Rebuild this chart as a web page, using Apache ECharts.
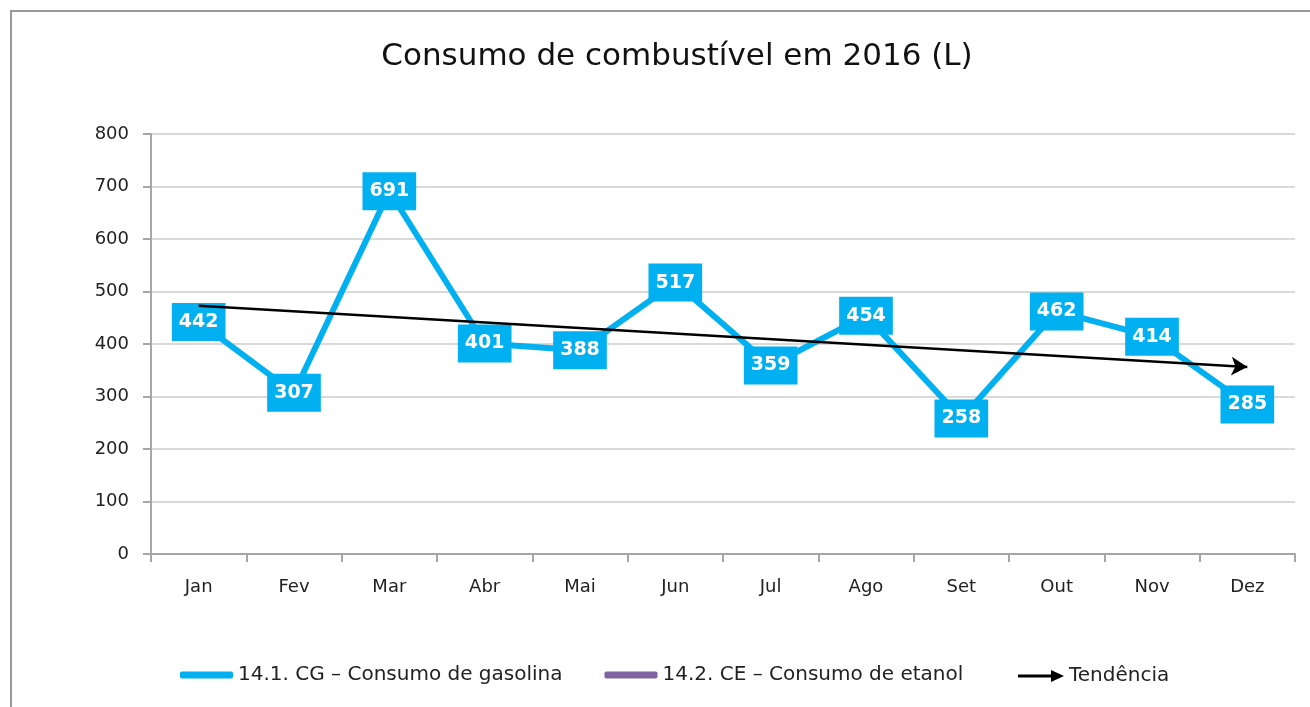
<!DOCTYPE html>
<html>
<head>
<meta charset="utf-8">
<script src="https://cdn.jsdelivr.net/npm/echarts@6/dist/echarts.min.js"></script>
<style>
html, body { margin: 0; padding: 0; background: #fff; }
#chart { width: 1310px; height: 707px; }
</style>
</head>
<body>
<div id="chart"></div>
<script>
var chart = echarts.init(document.getElementById('chart'));

var months = ['Jan', 'Fev', 'Mar', 'Abr', 'Mai', 'Jun', 'Jul', 'Ago', 'Set', 'Out', 'Nov', 'Dez'];
var gasolina = [442, 307, 691, 401, 388, 517, 359, 454, 258, 462, 414, 285];
var etanol = [];
var trendStart = ['Jan', 473];
var trendEnd = ['Dez', 356];
var yTicks = [0, 100, 200, 300, 400, 500, 600, 700, 800];

var font = 'DejaVu Sans';
var nameG = '14.1. CG \u2013 Consumo de gasolina';
var nameE = '14.2. CE \u2013 Consumo de etanol';
var nameT = 'Tend\u00eancia';

var option = {
  backgroundColor: '#fff',
  textStyle: { fontFamily: font },
  title: {
    text: 'Consumo de combustível em 2016 (L)',
    left: 672,
    top: 36,
    textAlign: 'center',
    textStyle: { fontFamily: font, fontSize: 31, fontWeight: 'normal', color: '#111' }
  },
  graphic: [
    {
      type: 'polyline',
      shape: { points: [[11, 707], [11, 11], [1310, 11]] },
      style: { stroke: '#999', lineWidth: 2, fill: null },
      silent: true
    }
  ],
  grid: { left: 151, right: 15, top: 134, bottom: 153 },
  legend: [
    {
      top: 660,
      left: 175,
      itemGap: 42,
      itemWidth: 53,
      itemHeight: 7,
      textStyle: { fontFamily: font, fontSize: 20, color: '#222' },
      data: [
        { name: nameG, icon: 'roundRect' },
        { name: nameE, icon: 'roundRect' }
      ]
    },
    {
      top: 661,
      left: 1013,
      itemWidth: 46,
      itemHeight: 12,
      textStyle: { fontFamily: font, fontSize: 20, color: '#222' },
      data: [
        { name: nameT, icon: 'path://M0,4.6 L33,4.6 L33,0 L46,6 L33,12 L33,7.4 L0,7.4 Z' }
      ]
    }
  ],
  xAxis: {
    type: 'category',
    data: months,
    boundaryGap: true,
    axisLine: { show: true, lineStyle: { color: '#a6a6a6', width: 2 } },
    axisTick: { show: true, length: 8, lineStyle: { color: '#a6a6a6', width: 2 } },
    axisLabel: { fontFamily: font, fontSize: 18, color: '#222', margin: 24 },
    splitLine: { show: false }
  },
  yAxis: {
    type: 'value',
    min: yTicks[0],
    max: yTicks[yTicks.length - 1],
    interval: 100,
    axisLine: { show: true, lineStyle: { color: '#a6a6a6', width: 2 } },
    axisTick: { show: true, length: 8, lineStyle: { color: '#a6a6a6', width: 2 } },
    axisLabel: { fontFamily: font, fontSize: 18, color: '#222', margin: 22 },
    splitLine: { show: true, lineStyle: { color: '#d9d9d9', width: 2 } }
  },
  series: [
    {
      name: nameG,
      type: 'line',
      data: gasolina,
      color: '#00B0F0',
      symbol: 'rect',
      symbolSize: 1,
      lineStyle: { width: 6, color: '#00B0F0' },
      z: 2,
      label: {
        show: true,
        position: 'inside',
        backgroundColor: '#00B0F0',
        color: '#fff',
        fontFamily: font,
        fontWeight: 'bold',
        fontSize: 19,
        padding: [10, 7, 9, 7]
      }
    },
    {
      name: nameE,
      type: 'line',
      data: etanol,
      color: '#8064A2',
      lineStyle: { width: 6, color: '#8064A2' }
    },
    {
      name: nameT,
      type: 'line',
      data: [],
      color: '#000',
      z: 5,
      markLine: {
        silent: true,
        symbol: ['none', 'arrow'],
        symbolSize: [14, 16],
        label: { show: false },
        lineStyle: { color: '#000', width: 2.5, type: 'solid' },
        data: [[{ coord: trendStart }, { coord: trendEnd }]]
      }
    }
  ]
};

chart.setOption(option);
</script>
</body>
</html>
